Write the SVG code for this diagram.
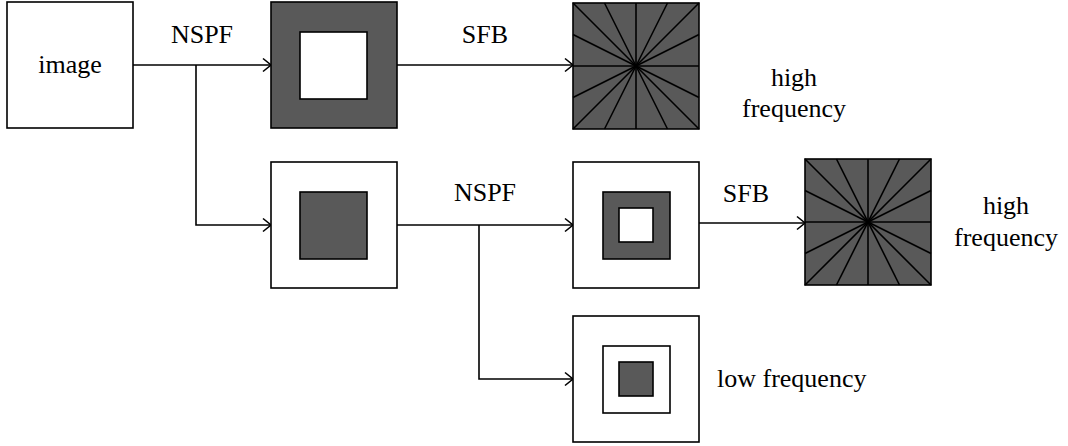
<svg xmlns="http://www.w3.org/2000/svg" width="1068" height="446" viewBox="0 0 1068 446">
  <style>
    .box { fill: #ffffff; stroke: #000000; stroke-width: 1.6; }
    .dark { fill: #595959; stroke: #000000; stroke-width: 1.6; }
    .wire { fill: none; stroke: #000000; stroke-width: 1.6; }
    .ray { stroke: #000000; stroke-width: 1.6; }
    text { font-family: "Liberation Serif", "Times New Roman", serif; font-size: 26px; fill: #000000; }
    .mid { text-anchor: middle; }
  </style>
  <defs>
    <marker id="arrow" markerUnits="userSpaceOnUse" markerWidth="12" markerHeight="16" viewBox="0 0 12 16" refX="10" refY="8" orient="auto">
      <path d="M2,1.5 L10,8 L2,14.5" fill="none" stroke="#000000" stroke-width="1.6"/>
    </marker>
    <!-- directional filter bank: square cut into 16 wedges from the centre -->
    <g id="fan">
      <rect class="dark" x="0" y="0" width="126" height="126"/>
      <line class="ray" x1="0" y1="0" x2="126" y2="126"/>
      <line class="ray" x1="31.5" y1="0" x2="94.5" y2="126"/>
      <line class="ray" x1="63" y1="0" x2="63" y2="126"/>
      <line class="ray" x1="94.5" y1="0" x2="31.5" y2="126"/>
      <line class="ray" x1="126" y1="0" x2="0" y2="126"/>
      <line class="ray" x1="126" y1="31.5" x2="0" y2="94.5"/>
      <line class="ray" x1="126" y1="63" x2="0" y2="63"/>
      <line class="ray" x1="126" y1="94.5" x2="0" y2="31.5"/>
    </g>
  </defs>

  <g id="connectors">
    <line class="wire" x1="133" y1="65" x2="271" y2="65" marker-end="url(#arrow)"/>
    <path class="wire" d="M196,65 V225 H271" marker-end="url(#arrow)"/>
    <line class="wire" x1="397" y1="65" x2="573" y2="65" marker-end="url(#arrow)"/>
    <line class="wire" x1="397" y1="225" x2="573" y2="225" marker-end="url(#arrow)"/>
    <path class="wire" d="M479,225 V379 H573" marker-end="url(#arrow)"/>
    <line class="wire" x1="699" y1="223" x2="805" y2="223" marker-end="url(#arrow)"/>
  </g>

  <g id="image">
    <rect class="box" x="7" y="2" width="126" height="126"/>
    <text class="mid" x="70" y="73">image</text>
  </g>

  <g id="nspf1-label"><text class="mid" x="202" y="43">NSPF</text></g>

  <g id="highpass1">
    <rect class="dark" x="271" y="2" width="126" height="126"/>
    <rect class="box" x="300" y="32" width="67" height="67"/>
  </g>

  <g id="sfb1-label"><text class="mid" x="485" y="43">SFB</text></g>

  <g id="directional1">
    <use href="#fan" x="573" y="3"/>
  </g>

  <g id="high1-label">
    <text class="mid" x="794" y="86">high</text>
    <text class="mid" x="794" y="117">frequency</text>
  </g>

  <g id="lowpass1">
    <rect class="box" x="271" y="162" width="126" height="126"/>
    <rect class="dark" x="300" y="192" width="67" height="67"/>
  </g>

  <g id="nspf2-label"><text class="mid" x="485" y="201">NSPF</text></g>

  <g id="highpass2">
    <rect class="box" x="573" y="162" width="126" height="126"/>
    <rect class="dark" x="603" y="192" width="67" height="67"/>
    <rect class="box" x="619" y="208" width="34" height="34"/>
  </g>

  <g id="sfb2-label"><text class="mid" x="746" y="202">SFB</text></g>

  <g id="directional2">
    <use href="#fan" x="805" y="159"/>
  </g>

  <g id="high2-label">
    <text class="mid" x="1006" y="214">high</text>
    <text class="mid" x="1006" y="246">frequency</text>
  </g>

  <g id="lowpass2">
    <rect class="box" x="573" y="316" width="126" height="126"/>
    <rect class="box" x="603" y="346" width="67" height="67"/>
    <rect class="dark" x="619" y="362" width="34" height="34"/>
  </g>

  <g id="low-label"><text x="717" y="387">low frequency</text></g>
</svg>
